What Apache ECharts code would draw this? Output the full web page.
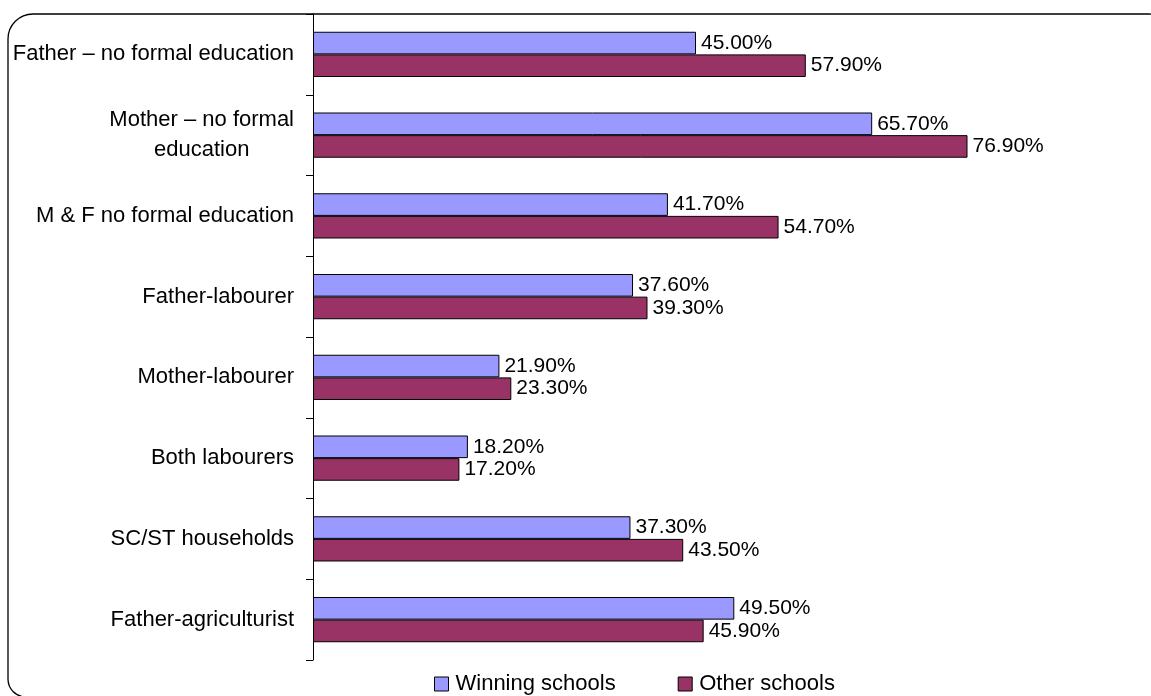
<!DOCTYPE html>
<html>
<head>
<meta charset="utf-8">
<script src="https://cdn.jsdelivr.net/npm/echarts@6/dist/echarts.min.js"></script>
<style>
  html, body { margin: 0; padding: 0; background: #fff; }
  #chart { width: 1151px; height: 696px; }
</style>
</head>
<body>
<div id="chart"></div>
<script>
// Household background indicators, winning vs. other schools (%)
const categories = [
  'Father – no formal education',
  'Mother – no formal\neducation',
  'M & F no formal education',
  'Father-labourer',
  'Mother-labourer',
  'Both labourers',
  'SC/ST households',
  'Father-agriculturist'
];
const winningSchools = [45.0, 65.7, 41.7, 37.6, 21.9, 18.2, 37.3, 49.5];
const otherSchools = [57.9, 76.9, 54.7, 39.3, 23.3, 17.2, 43.5, 45.9];
const seriesNames = ['Winning schools', 'Other schools'];

const FONT = '"Liberation Sans", Arial, sans-serif';

const chart = echarts.init(document.getElementById('chart'), null, { renderer: 'canvas' });

// category labels: each line centred inside a right-aligned block
function catLabel(v) {
  return v.split('\n').map(function (l) { return '{c|' + l + '}'; }).join('\n');
}

const labelStyle = {
  show: true,
  position: 'right',
  distance: 5,
  color: '#000',
  fontFamily: FONT,
  fontSize: 21,
  formatter: function (p) { return p.value.toFixed(2) + '%'; }
};

chart.setOption({
  animation: false,
  backgroundColor: '#fff',
  graphic: [{
    type: 'rect',
    shape: { x: 8, y: 14, width: 1166, height: 683, r: [25, 25, 18, 18] },
    style: { fill: 'none', stroke: '#000', lineWidth: 1.3 },
    z: -1
  }],
  legend: {
    left: 429,
    top: 668,
    itemWidth: 14,
    itemHeight: 14,
    itemGap: 62,
    icon: 'rect',
    textStyle: { fontFamily: FONT, fontSize: 22, color: '#000', padding: [0, 0, 0, 2] },
    itemStyle: { borderColor: '#000', borderWidth: 1 },
    data: seriesNames
  },
  grid: { left: 313, top: 14, width: 766, height: 646, containLabel: false },
  xAxis: {
    type: 'value',
    min: 0,
    max: 90,
    show: false
  },
  yAxis: {
    type: 'category',
    inverse: true,
    data: categories,
    axisLine: { show: true, lineStyle: { color: '#000', width: 1 } },
    axisTick: { show: true, length: 7, lineStyle: { color: '#000' } },
    axisLabel: {
      margin: 19,
      color: '#000',
      fontFamily: FONT,
      fontSize: 22,
      lineHeight: 30,
      formatter: catLabel,
      rich: { c: { align: 'center', fontFamily: FONT, fontSize: 22, lineHeight: 30, color: '#000' } }
    },
    splitLine: { show: false }
  },
  series: [
    {
      name: seriesNames[0],
      type: 'bar',
      data: winningSchools,
      barGap: '0%',
      barCategoryGap: '44%',
      itemStyle: { color: '#9999FF', borderColor: '#000', borderWidth: 1 },
      label: labelStyle
    },
    {
      name: seriesNames[1],
      type: 'bar',
      data: otherSchools,
      barGap: '0%',
      barCategoryGap: '44%',
      itemStyle: { color: '#993366', borderColor: '#000', borderWidth: 1 },
      label: labelStyle
    }
  ]
});
</script>
</body>
</html>
